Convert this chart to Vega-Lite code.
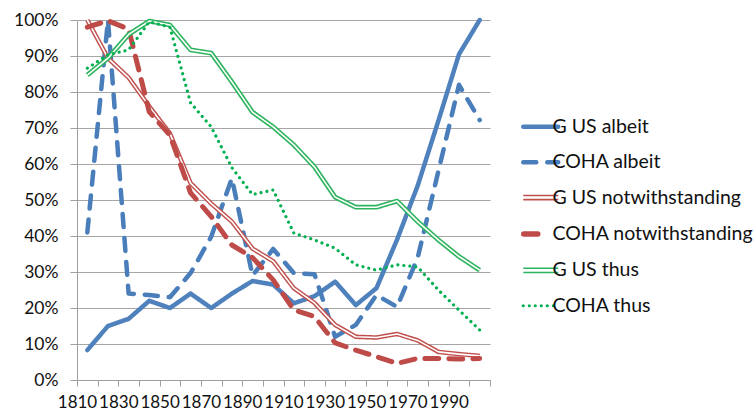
{
  "$schema": "https://vega.github.io/schema/vega-lite/v6.json",
  "width": 413,
  "height": 360,
  "autosize": {"type": "none"},
  "padding": {"left": 77, "top": 20, "right": 263, "bottom": 32},
  "background": "white",
  "config": {"view": {"stroke": null}, "font": "Lato"},
  "datasets": {
    "d": [
      {"year":1810,"series":"G US albeit","value":0.083},{"year":1820,"series":"G US albeit","value":0.15},{"year":1830,"series":"G US albeit","value":0.17},{"year":1840,"series":"G US albeit","value":0.22},{"year":1850,"series":"G US albeit","value":0.20},{"year":1860,"series":"G US albeit","value":0.24},{"year":1870,"series":"G US albeit","value":0.20},{"year":1880,"series":"G US albeit","value":0.24},{"year":1890,"series":"G US albeit","value":0.275},{"year":1900,"series":"G US albeit","value":0.265},{"year":1910,"series":"G US albeit","value":0.213},{"year":1920,"series":"G US albeit","value":0.233},{"year":1930,"series":"G US albeit","value":0.273},{"year":1940,"series":"G US albeit","value":0.208},{"year":1950,"series":"G US albeit","value":0.255},{"year":1960,"series":"G US albeit","value":0.39},{"year":1970,"series":"G US albeit","value":0.54},{"year":1980,"series":"G US albeit","value":0.72},{"year":1990,"series":"G US albeit","value":0.905},{"year":2000,"series":"G US albeit","value":1.0},
      {"year":1810,"series":"COHA albeit","value":0.41},{"year":1820,"series":"COHA albeit","value":1.0},{"year":1830,"series":"COHA albeit","value":0.24},{"year":1840,"series":"COHA albeit","value":0.236},{"year":1850,"series":"COHA albeit","value":0.23},{"year":1860,"series":"COHA albeit","value":0.297},{"year":1870,"series":"COHA albeit","value":0.398},{"year":1880,"series":"COHA albeit","value":0.56},{"year":1890,"series":"COHA albeit","value":0.29},{"year":1900,"series":"COHA albeit","value":0.364},{"year":1910,"series":"COHA albeit","value":0.297},{"year":1920,"series":"COHA albeit","value":0.294},{"year":1930,"series":"COHA albeit","value":0.12},{"year":1940,"series":"COHA albeit","value":0.153},{"year":1950,"series":"COHA albeit","value":0.236},{"year":1960,"series":"COHA albeit","value":0.203},{"year":1970,"series":"COHA albeit","value":0.34},{"year":1980,"series":"COHA albeit","value":0.58},{"year":1990,"series":"COHA albeit","value":0.82},{"year":2000,"series":"COHA albeit","value":0.722},
      {"year":1810,"series":"G US notwithstanding","value":1.0},{"year":1820,"series":"G US notwithstanding","value":0.894},{"year":1830,"series":"G US notwithstanding","value":0.84},{"year":1840,"series":"G US notwithstanding","value":0.76},{"year":1850,"series":"G US notwithstanding","value":0.685},{"year":1860,"series":"G US notwithstanding","value":0.547},{"year":1870,"series":"G US notwithstanding","value":0.49},{"year":1880,"series":"G US notwithstanding","value":0.44},{"year":1890,"series":"G US notwithstanding","value":0.365},{"year":1900,"series":"G US notwithstanding","value":0.33},{"year":1910,"series":"G US notwithstanding","value":0.255},{"year":1920,"series":"G US notwithstanding","value":0.214},{"year":1930,"series":"G US notwithstanding","value":0.153},{"year":1940,"series":"G US notwithstanding","value":0.12},{"year":1950,"series":"G US notwithstanding","value":0.118},{"year":1960,"series":"G US notwithstanding","value":0.128},{"year":1970,"series":"G US notwithstanding","value":0.11},{"year":1980,"series":"G US notwithstanding","value":0.078},{"year":1990,"series":"G US notwithstanding","value":0.072},{"year":2000,"series":"G US notwithstanding","value":0.067},
      {"year":1810,"series":"COHA notwithstanding","value":0.98},{"year":1820,"series":"COHA notwithstanding","value":0.998},{"year":1830,"series":"COHA notwithstanding","value":0.975},{"year":1840,"series":"COHA notwithstanding","value":0.745},{"year":1850,"series":"COHA notwithstanding","value":0.68},{"year":1860,"series":"COHA notwithstanding","value":0.52},{"year":1870,"series":"COHA notwithstanding","value":0.454},{"year":1880,"series":"COHA notwithstanding","value":0.375},{"year":1890,"series":"COHA notwithstanding","value":0.34},{"year":1900,"series":"COHA notwithstanding","value":0.278},{"year":1910,"series":"COHA notwithstanding","value":0.195},{"year":1920,"series":"COHA notwithstanding","value":0.176},{"year":1930,"series":"COHA notwithstanding","value":0.103},{"year":1940,"series":"COHA notwithstanding","value":0.083},{"year":1950,"series":"COHA notwithstanding","value":0.065},{"year":1960,"series":"COHA notwithstanding","value":0.046},{"year":1970,"series":"COHA notwithstanding","value":0.06},{"year":1980,"series":"COHA notwithstanding","value":0.06},{"year":1990,"series":"COHA notwithstanding","value":0.058},{"year":2000,"series":"COHA notwithstanding","value":0.06},
      {"year":1810,"series":"G US thus","value":0.847},{"year":1820,"series":"G US thus","value":0.894},{"year":1830,"series":"G US thus","value":0.96},{"year":1840,"series":"G US thus","value":0.997},{"year":1850,"series":"G US thus","value":0.986},{"year":1860,"series":"G US thus","value":0.917},{"year":1870,"series":"G US thus","value":0.908},{"year":1880,"series":"G US thus","value":0.828},{"year":1890,"series":"G US thus","value":0.744},{"year":1900,"series":"G US thus","value":0.703},{"year":1910,"series":"G US thus","value":0.653},{"year":1920,"series":"G US thus","value":0.592},{"year":1930,"series":"G US thus","value":0.508},{"year":1940,"series":"G US thus","value":0.48},{"year":1950,"series":"G US thus","value":0.48},{"year":1960,"series":"G US thus","value":0.497},{"year":1970,"series":"G US thus","value":0.44},{"year":1980,"series":"G US thus","value":0.389},{"year":1990,"series":"G US thus","value":0.343},{"year":2000,"series":"G US thus","value":0.305},
      {"year":1810,"series":"COHA thus","value":0.866},{"year":1820,"series":"COHA thus","value":0.903},{"year":1830,"series":"COHA thus","value":0.917},{"year":1840,"series":"COHA thus","value":0.995},{"year":1850,"series":"COHA thus","value":0.98},{"year":1860,"series":"COHA thus","value":0.77},{"year":1870,"series":"COHA thus","value":0.703},{"year":1880,"series":"COHA thus","value":0.59},{"year":1890,"series":"COHA thus","value":0.515},{"year":1900,"series":"COHA thus","value":0.528},{"year":1910,"series":"COHA thus","value":0.408},{"year":1920,"series":"COHA thus","value":0.389},{"year":1930,"series":"COHA thus","value":0.366},{"year":1940,"series":"COHA thus","value":0.32},{"year":1950,"series":"COHA thus","value":0.305},{"year":1960,"series":"COHA thus","value":0.32},{"year":1970,"series":"COHA thus","value":0.314},{"year":1980,"series":"COHA thus","value":0.25},{"year":1990,"series":"COHA thus","value":0.194},{"year":2000,"series":"COHA thus","value":0.139}
    ]
  },
  "data": {"name": "d"},
  "encoding": {
    "x": {
      "field": "year", "type": "quantitative",
      "scale": {"domain": [1805, 2005], "nice": false, "zero": false},
      "axis": {
        "title": null,
        "values": [1805,1815,1825,1835,1845,1855,1865,1875,1885,1895,1905,1915,1925,1935,1945,1955,1965,1975,1985,1995,2005],
        "labelExpr": "(datum.value - 1805) % 20 == 0 && datum.value < 2000 ? '' + (datum.value + 5) : ''",
        "labelDx": 10.3,
        "labelOverlap": false, "labelFlush": false, "labelBound": false,
        "labelFont": "Lato", "labelFontSize": 17, "labelColor": "#111111", "labelPadding": 8,
        "tickSize": 6, "tickColor": "#A0A0A0", "domainColor": "#A0A0A0", "grid": false
      }
    },
    "y": {
      "field": "value", "type": "quantitative",
      "scale": {"domain": [0, 1], "nice": false},
      "axis": {
        "title": null,
        "values": [0,0.1,0.2,0.3,0.4,0.5,0.6,0.7,0.8,0.9,1],
        "format": ".0%",
        "labelFont": "Lato", "labelFontSize": 17.5, "labelColor": "#111111", "labelPadding": 12, "labelDy": 2,
        "tickSize": 7, "tickColor": "#A0A0A0", "domainColor": "#A0A0A0",
        "grid": true, "gridColor": "#A6A6A6", "gridWidth": 1.2
      }
    }
  },
  "layer": [
    {
      "transform": [{"filter": "datum.series == 'G US albeit'"}],
      "mark": {"type": "line", "strokeWidth": 4.5, "strokeCap": "round", "strokeJoin": "round"},
      "encoding": {
        "color": {
          "field": "series", "type": "nominal",
          "scale": {
            "domain": ["G US albeit","COHA albeit","G US notwithstanding","COHA notwithstanding","G US thus","COHA thus"],
            "range": ["#4F81BD","#4A7EBB","#C0504D","#BE4B48","#2DB45E","#00B050"]
          },
          "legend": {
            "title": null, "orient": "none", "legendX": 454, "legendY": 97,
            "symbolType": "stroke", "symbolSize": 1225, "symbolStrokeWidth": 4.5,
            "labelFont": "Lato", "labelFontSize": 19.5, "labelColor": "#111111", "labelOffset": 2, "labelLimit": 400,
            "rowPadding": 14.4, "padding": 0,
            "encode": {"symbols": {"update": {
              "strokeCap": {"signal": "datum.value == 'G US notwithstanding' || datum.value == 'G US thus' ? 'butt' : 'round'"},
              "shape": {"signal": "datum.value == 'G US notwithstanding' || datum.value == 'G US thus' ? 'M-1,-0.12H1M-1,0.12H1' : datum.value == 'COHA notwithstanding' ? 'M-0.97,0H0.15' : 'stroke'"},
              "strokeWidth": {"signal": "datum.value == 'COHA thus' ? 3.2 : (datum.value == 'G US notwithstanding' || datum.value == 'G US thus') ? 1.6 : datum.value == 'COHA notwithstanding' ? 5.5 : 4.5"}
            }}}
          }
        },
        "strokeDash": {
          "field": "series", "type": "nominal",
          "scale": {
            "domain": ["G US albeit","COHA albeit","G US notwithstanding","COHA notwithstanding","G US thus","COHA thus"],
            "range": [[1,0],[13,11],[1,0],[14,10],[1,0],[0.01,6]]
          }
        }
      }
    },
    {
      "transform": [{"filter": "datum.series == 'COHA albeit'"}],
      "mark": {"type": "line", "strokeWidth": 4.5, "strokeCap": "round", "strokeJoin": "round"},
      "encoding": {
        "color": {"field": "series", "type": "nominal"},
        "strokeDash": {"field": "series", "type": "nominal"}
      }
    },
    {
      "transform": [{"filter": "datum.series == 'G US notwithstanding'"}],
      "mark": {"type": "line", "strokeWidth": 4.5, "strokeCap": "butt", "strokeJoin": "round"},
      "encoding": {
        "color": {"field": "series", "type": "nominal"},
        "strokeDash": {"field": "series", "type": "nominal"}
      }
    },
    {
      "transform": [{"filter": "datum.series == 'G US notwithstanding'"}],
      "mark": {"type": "line", "strokeWidth": 1.6, "strokeCap": "butt", "strokeJoin": "round", "color": "white"},
      "encoding": {}
    },
    {
      "transform": [{"filter": "datum.series == 'COHA notwithstanding'"}],
      "mark": {"type": "line", "strokeWidth": 5, "strokeCap": "round", "strokeJoin": "round"},
      "encoding": {
        "color": {"field": "series", "type": "nominal"},
        "strokeDash": {"field": "series", "type": "nominal"}
      }
    },
    {
      "transform": [{"filter": "datum.series == 'G US thus'"}],
      "mark": {"type": "line", "strokeWidth": 4.8, "strokeCap": "butt", "strokeJoin": "round"},
      "encoding": {
        "color": {"field": "series", "type": "nominal"},
        "strokeDash": {"field": "series", "type": "nominal"}
      }
    },
    {
      "transform": [{"filter": "datum.series == 'G US thus'"}],
      "mark": {"type": "line", "strokeWidth": 1.6, "strokeCap": "butt", "strokeJoin": "round", "color": "white"},
      "encoding": {}
    },
    {
      "transform": [{"filter": "datum.series == 'COHA thus'"}],
      "mark": {"type": "line", "strokeWidth": 3.2, "strokeCap": "round", "strokeJoin": "round"},
      "encoding": {
        "color": {"field": "series", "type": "nominal"},
        "strokeDash": {"field": "series", "type": "nominal"}
      }
    }
  ]
}
